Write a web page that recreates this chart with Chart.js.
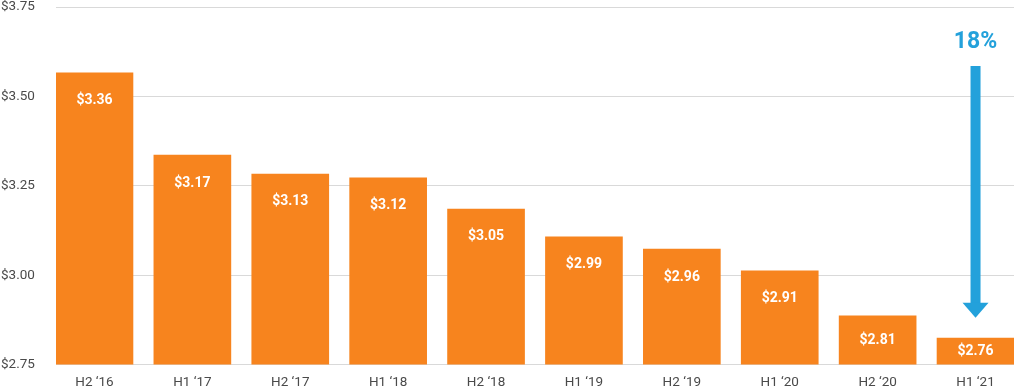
<!DOCTYPE html>
<html>
<head>
<meta charset="utf-8">
<script src="https://cdn.jsdelivr.net/npm/chart.js@4"></script>
<style>
  html, body { margin: 0; padding: 0; background: #fff; }
  #wrap { width: 1014px; height: 391px; position: relative; }
</style>
</head>
<body>
<div id="wrap"><canvas id="myChart"></canvas></div>
<script>
// half-year periods
const categories = ['H2 \u201816', 'H1 \u201817', 'H2 \u201817', 'H1 \u201818', 'H2 \u201818',
                    'H1 \u201819', 'H2 \u201819', 'H1 \u201820', 'H2 \u201820', 'H1 \u201821']
// bar heights as drawn against the axis
const barValues = [3.566, 3.336, 3.283, 3.272, 3.185, 3.107, 3.073, 3.012, 2.886, 2.824]
// printed values inside the bars
const barLabels = ['$3.36', '$3.17', '$3.13', '$3.12', '$3.05', '$2.99', '$2.96', '$2.91', '$2.81', '$2.76']
const yTicks = [2.75, 3.00, 3.25, 3.50, 3.75]
// drop arrow on the last period
const arrowAt = 9
const arrowFrom = 3.585
const arrowTo = 2.881
const arrowText = '18%'

const barLabelPlugin = {
  id: 'barLabels',
  afterDraw(chart) {
    const ctx = chart.ctx
    const xs = chart.scales.x, ys = chart.scales.y
    ctx.save()
    ctx.fillStyle = '#ffffff'
    ctx.font = 'bold 14px Roboto'
    ctx.textAlign = 'center'
    ctx.textBaseline = 'middle'
    barValues.forEach((v, i) => {
      const top = ys.getPixelForValue(v)
      const base = ys.getPixelForValue(yTicks[0])
      const y = Math.min(top + 28, (top + base) / 2)
      ctx.fillText(barLabels[i], xs.getPixelForValue(i), y)
    })
    ctx.restore()
  }
}

const arrowPlugin = {
  id: 'dropArrow',
  afterDraw(chart) {
    const ctx = chart.ctx
    const x = chart.scales.x.getPixelForValue(arrowAt)
    const top = chart.scales.y.getPixelForValue(arrowFrom)
    const tip = chart.scales.y.getPixelForValue(arrowTo)
    const headH = 15
    ctx.save()
    ctx.fillStyle = '#23a1db'
    ctx.fillRect(x - 5, top, 10, tip - headH - top + 1)
    ctx.beginPath()
    ctx.moveTo(x - 13, tip - headH)
    ctx.lineTo(x + 13, tip - headH)
    ctx.lineTo(x, tip)
    ctx.closePath()
    ctx.fill()
    ctx.font = 'bold 23px Roboto'
    ctx.textAlign = 'center'
    ctx.textBaseline = 'middle'
    ctx.fillText(arrowText, x, top - 24)
    ctx.restore()
  }
}

new Chart(document.getElementById('myChart'), {
  type: 'bar',
  data: {
    datasets: [{
      data: barValues.map((v, i) => ({ x: i, y: v })),
      backgroundColor: '#f7841e',
      borderWidth: 0,
      barThickness: 77
    }]
  },
  options: {
    responsive: true,
    maintainAspectRatio: false,
    animation: false,
    layout: { padding: { left: 1, right: 0, top: 0, bottom: 0 } },
    plugins: {
      legend: { display: false },
      tooltip: { enabled: false }
    },
    scales: {
      x: {
        type: 'linear',
        offset: false,
        min: -0.393,
        max: 9.393,
        afterFit: (scale) => { scale.height = 26.5 },
        grid: { display: false, drawTicks: false, offset: false },
        border: { display: false },
        ticks: {
          stepSize: 1,
          includeBounds: false,
          autoSkip: false,
          maxRotation: 0,
          padding: 10.5,
          color: '#4a4a4a',
          font: { family: 'Roboto', size: 13.5 },
          callback: (v) => categories[v] || ''
        }
      },
      y: {
        min: yTicks[0],
        max: yTicks[yTicks.length - 1],
        afterFit: (scale) => { scale.width = 55 },
        grid: { color: '#d9d9d9', drawTicks: false },
        border: { display: false },
        ticks: {
          stepSize: 0.25,
          padding: 0,
          crossAlign: 'far',
          color: '#4a4a4a',
          font: { family: 'Roboto', size: 13.5, lineHeight: 1.04 },
          callback: (v) => '$' + v.toFixed(2)
        }
      }
    }
  },
  plugins: [barLabelPlugin, arrowPlugin]
})
</script>
</body>
</html>
